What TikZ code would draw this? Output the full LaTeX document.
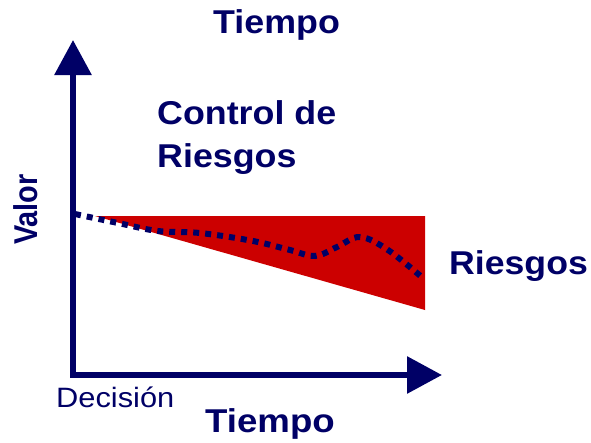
\documentclass[tikz,border=0pt]{standalone}
\usepackage{fontspec}
\setmainfont{Liberation Sans}
\usetikzlibrary{arrows.meta}
\definecolor{navy}{HTML}{000066}
\definecolor{riskred}{HTML}{CC0000}
\begin{document}
\begin{tikzpicture}[x=1pt,y=-1pt,
  bigtxt/.style={inner sep=0pt, anchor=base west, text=navy, font=\fontsize{33}{38}\selectfont\bfseries},
  smalltxt/.style={inner sep=0pt, anchor=base west, text=navy, font=\fontsize{28}{32}\selectfont},
  axis/.style={draw=navy, line width=6pt, {Triangle[length=35pt,width=36pt]}-{Triangle[length=35pt,width=36pt]}},
  riskline/.style={draw=navy, line width=6pt, dash pattern=on 6pt off 6pt}]
\useasboundingbox (0,0) rectangle (591,442);
\fill[riskred] (95,216) -- (425,216) -- (425,310) -- cycle;
\coordinate (ytip) at (73,40);
\coordinate (origin) at (73,375);
\coordinate (xtip) at (442,375);
\draw[axis] (ytip) -- (origin) -- (xtip);
\draw[riskline] plot[smooth, tension=0.6] coordinates {(75,214) (118,223) (158,231) (200,233) (253,241) (290,250) (315,256) (337,247) (360,237) (388,250) (424,279)};
\node[bigtxt] (ttop) at (213,33) {\scalebox{1.085}[1]{Tiempo}};
\node[bigtxt] (ctrl1) at (157,124) {\scalebox{1.085}[1]{Control de}};
\node[bigtxt] (ctrl2) at (157,167) {\scalebox{1.085}[1]{Riesgos}};
\node[bigtxt] (riesgos) at (449,274) {\scalebox{1.08}[1]{Riesgos}};
\node[bigtxt, rotate=90] (valor) at (37,245) {\scalebox{0.875}[1]{Valor}};
\node[smalltxt] (decision) at (56,407) {\scalebox{1.1}[1]{Decisión}};
\node[bigtxt] (tbot) at (205,432) {\scalebox{1.11}[1]{Tiempo}};
\end{tikzpicture}
\end{document}
